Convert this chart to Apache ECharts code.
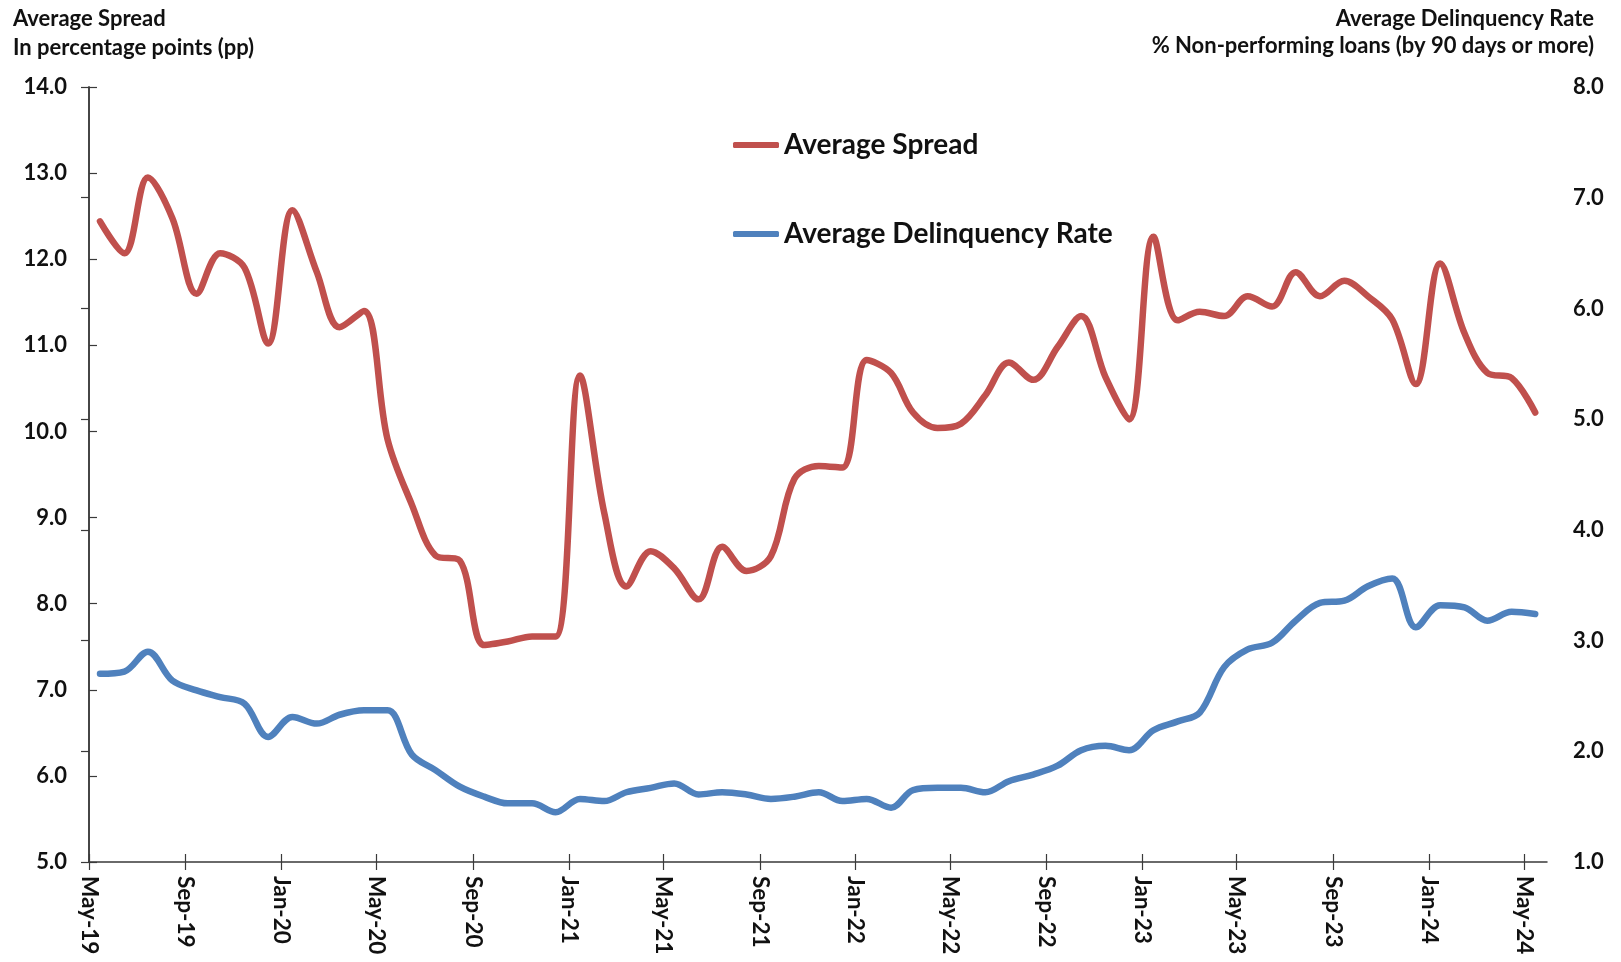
<!DOCTYPE html>
<html>
<head>
<meta charset="utf-8">
<script src="https://cdn.jsdelivr.net/npm/echarts@6/dist/echarts.min.js"></script>
<style>
  html, body { margin: 0; padding: 0; background: #ffffff; }
  #chart { width: 1621px; height: 962px; }
</style>
</head>
<body>
<div id="chart"></div>
<script>
// ---- Data (monthly, May-19 .. May-24) ----
const categories = [
  'May-19','Jun-19','Jul-19','Aug-19','Sep-19','Oct-19','Nov-19','Dec-19',
  'Jan-20','Feb-20','Mar-20','Apr-20','May-20','Jun-20','Jul-20','Aug-20','Sep-20','Oct-20','Nov-20','Dec-20',
  'Jan-21','Feb-21','Mar-21','Apr-21','May-21','Jun-21','Jul-21','Aug-21','Sep-21','Oct-21','Nov-21','Dec-21',
  'Jan-22','Feb-22','Mar-22','Apr-22','May-22','Jun-22','Jul-22','Aug-22','Sep-22','Oct-22','Nov-22','Dec-22',
  'Jan-23','Feb-23','Mar-23','Apr-23','May-23','Jun-23','Jul-23','Aug-23','Sep-23','Oct-23','Nov-23','Dec-23',
  'Jan-24','Feb-24','Mar-24','Apr-24','May-24'
];

// Average Spread (pp) - left axis
const averageSpread = [
  12.44, 12.07, 12.95, 12.48, 11.60, 12.07, 11.90, 11.02, 12.57, 11.85,
  11.21, 11.40, 9.91, 9.15, 8.56, 8.50, 7.52, 7.56, 7.62, 7.62,
  10.65, 9.05, 8.20, 8.61, 8.41, 8.05, 8.66, 8.38, 8.55, 9.45,
  9.60, 9.58, 10.83, 10.68, 10.22, 10.04, 10.09, 10.42, 10.80, 10.60,
  10.98, 11.34, 10.63, 10.14, 12.26, 11.29, 11.39, 11.34, 11.57, 11.45,
  11.85, 11.57, 11.75, 11.57, 11.30, 10.55, 11.95, 11.14, 10.68, 10.62,
  10.22
];

// Average Delinquency Rate (%) - right axis
const averageDelinquency = [
  2.70, 2.72, 2.90, 2.64, 2.55, 2.49, 2.43, 2.13, 2.31, 2.25,
  2.33, 2.37, 2.37, 1.97, 1.83, 1.68, 1.59, 1.53, 1.53, 1.45,
  1.57, 1.55, 1.63, 1.67, 1.71, 1.61, 1.63, 1.61, 1.57, 1.59,
  1.63, 1.55, 1.57, 1.49, 1.65, 1.67, 1.67, 1.63, 1.73, 1.79,
  1.87, 2.01, 2.05, 2.01, 2.19, 2.27, 2.35, 2.76, 2.92, 2.98,
  3.18, 3.34, 3.36, 3.49, 3.56, 3.12, 3.32, 3.30, 3.18, 3.26,
  3.24
];

const xTickLabels = ['May-19','Sep-19','Jan-20','May-20','Sep-20','Jan-21','May-21','Sep-21',
  'Jan-22','May-22','Sep-22','Jan-23','May-23','Sep-23','Jan-24','May-24'];

const leftTicks = { min: 5, max: 14, interval: 1 };
const rightTicks = { min: 1, max: 8, interval: 1 };

const seriesNames = ['Average Spread', 'Average Delinquency Rate'];
const seriesColors = ['#C0504D', '#4F81BD'];

// ---- helpers: x is measured in days since 1 May 2019 (date axis) ----
const MONTHS = ['Jan','Feb','Mar','Apr','May','Jun','Jul','Aug','Sep','Oct','Nov','Dec'];
const DAY = 86400000;
const ORIGIN = Date.UTC(2019, 4, 1);
function labelToDay(lbl, day) {
  const [m, y] = lbl.split('-');
  return Math.round((Date.UTC(2000 + Number(y), MONTHS.indexOf(m), day) - ORIGIN) / DAY);
}
const tickDays = xTickLabels.map(l => labelToDay(l, 1));
const tickLabelMap = {};
tickDays.forEach((t, i) => { tickLabelMap[t] = xTickLabels[i]; });

const xMin = 0;
const xMax = labelToDay('May-24', 30);

const spreadData = categories.map((c, i) => [labelToDay(c, 15), averageSpread[i]]);
const delinqData = categories.map((c, i) => [labelToDay(c, 15), averageDelinquency[i]]);

const FONT = 'Lato, "Open Sans", sans-serif';
const TXT = '#111111';
const AXIS = '#3a3a3a';

const chart = echarts.init(document.getElementById('chart'), null, { renderer: 'canvas' });

const option = {
  backgroundColor: '#ffffff',
  animation: false,
  textStyle: { fontFamily: FONT },
  graphic: [
    { type: 'text', x: 13, y: 19, style: { text: 'Average Spread', fontFamily: FONT, fontWeight: 'bold', fontSize: 22, fill: TXT, align: 'left', verticalAlign: 'middle' } },
    { type: 'text', x: 13, y: 48, style: { text: 'In percentage points (pp)', fontFamily: FONT, fontWeight: 'bold', fontSize: 22, fill: TXT, align: 'left', verticalAlign: 'middle' } },
    { type: 'text', x: 1594, y: 19, style: { text: 'Average Delinquency Rate', fontFamily: FONT, fontWeight: 'bold', fontSize: 22, fill: TXT, align: 'right', verticalAlign: 'middle' } },
    { type: 'text', x: 1594, y: 46, style: { text: '% Non-performing loans (by 90 days or more)', fontFamily: FONT, fontWeight: 'bold', fontSize: 22, fill: TXT, align: 'right', verticalAlign: 'middle' } }
  ],
  legend: {
    orient: 'vertical',
    left: 733,
    top: 130,
    padding: 0,
    itemWidth: 46,
    itemHeight: 6,
    itemGap: 59,
    icon: 'roundRect',
    data: seriesNames,
    textStyle: { fontFamily: FONT, fontSize: 28, fontWeight: 'bold', color: TXT, lineHeight: 30 }
  },
  grid: { left: 89, right: 74, top: 87, bottom: 100, containLabel: false },
  xAxis: [
    {
      type: 'value',
      min: xMin,
      max: xMax,
      position: 'bottom',
      splitLine: { show: false },
      axisLine: { show: true, onZero: false, lineStyle: { color: AXIS, width: 1.5 } },
      axisTick: { show: true, inside: false, length: 8, customValues: tickDays, lineStyle: { color: AXIS, width: 1.2 } },
      axisLabel: {
        show: true,
        customValues: tickDays,
        rotate: -90,
        margin: 14,
        fontFamily: FONT,
        fontSize: 22.5,
        fontWeight: 'bold',
        color: TXT,
        formatter: function (v) { return tickLabelMap[Math.round(v)] || ''; }
      }
    },
    {
      type: 'value',
      min: xMin,
      max: xMax,
      position: 'bottom',
      splitLine: { show: false },
      axisLine: { show: false, onZero: false },
      axisTick: { show: true, inside: true, length: 8, customValues: tickDays, lineStyle: { color: AXIS, width: 1.2 } },
      axisLabel: { show: false }
    }
  ],
  yAxis: [
    {
      type: 'value',
      position: 'left',
      min: leftTicks.min,
      max: leftTicks.max,
      interval: leftTicks.interval,
      splitLine: { show: false },
      axisLine: { show: true, lineStyle: { color: AXIS, width: 1.5 } },
      axisTick: { show: true, inside: true, length: 8, lineStyle: { color: AXIS, width: 1.2 } },
      axisLabel: { margin: 22, fontFamily: FONT, fontSize: 22, fontWeight: 'bold', color: TXT, formatter: v => v.toFixed(1) }
    },
    {
      type: 'value',
      position: 'right',
      min: rightTicks.min,
      max: rightTicks.max,
      interval: rightTicks.interval,
      splitLine: { show: false },
      axisLine: { show: true, lineStyle: { color: AXIS, width: 1.5 } },
      axisTick: { show: true, inside: true, length: 8, lineStyle: { color: AXIS, width: 1.2 } },
      axisLabel: { margin: 26, fontFamily: FONT, fontSize: 22, fontWeight: 'bold', color: TXT, formatter: v => v.toFixed(1) }
    }
  ],
  series: [
    {
      name: seriesNames[0],
      type: 'line',
      xAxisIndex: 0,
      yAxisIndex: 0,
      data: spreadData,
      smooth: 0.35,
      symbol: 'none',
      showSymbol: false,
      color: seriesColors[0],
      lineStyle: { color: seriesColors[0], width: 6.5, cap: 'round', join: 'round' },
      z: 3
    },
    {
      name: seriesNames[1],
      type: 'line',
      xAxisIndex: 0,
      yAxisIndex: 1,
      data: delinqData,
      smooth: 0.35,
      symbol: 'none',
      showSymbol: false,
      color: seriesColors[1],
      lineStyle: { color: seriesColors[1], width: 6.5, cap: 'round', join: 'round' },
      z: 2
    }
  ]
};

chart.setOption(option);
</script>
</body>
</html>
